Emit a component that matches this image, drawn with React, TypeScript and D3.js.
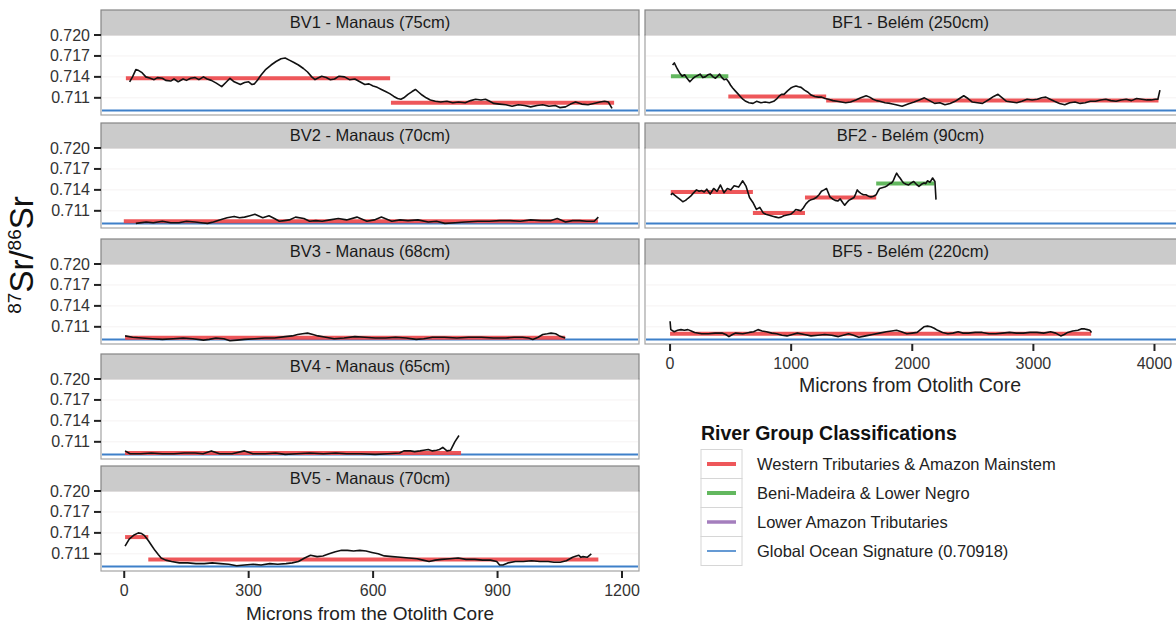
import React from 'react';
import * as d3 from 'd3';

const FONT = '"Liberation Sans", Arial, Helvetica, sans-serif';

// Shared scale settings
const OCEAN_SR = 0.70918;
const Y_DOMAIN = [0.70854, 0.72];
const Y_TICKS = [0.711, 0.714, 0.717, 0.72];
const LEFT_X_TICKS = [0, 300, 600, 900, 1200];
const RIGHT_X_TICKS = [0, 1000, 2000, 3000, 4000];

// River group classes used by the segment overlays and legend
const GROUP_KEYS = ['western', 'beni', 'lower', 'ocean'];
const GROUP_LABELS = [
  'Western Tributaries & Amazon Mainstem',
  'Beni-Madeira & Lower Negro',
  'Lower Amazon Tributaries',
  'Global Ocean Signature (0.70918)',
];
const GROUP_COLORS: Record<string, string> = {
  western: '#ec4548',
  beni: '#52b04e',
  lower: '#9a70b6',
  ocean: '#3e80c9',
};

// ---- Manaus fish (left column) ----
const bv1Microns = [13, 20, 28, 35, 43, 52, 63, 72, 80, 92, 100, 112, 120, 130, 142, 150, 160, 171, 180, 191, 200, 210, 222, 235, 245, 255, 265, 280, 290, 300, 308, 314, 322, 329, 340, 354, 366, 378, 388, 398, 408, 420, 432, 442, 452, 460, 466, 476, 487, 497, 507, 518, 531, 543, 556, 568, 580, 590, 600, 610, 620, 630, 640, 650, 659, 667, 674, 684, 694, 702, 710, 718, 728, 738, 750, 763, 778, 792, 806, 822, 835, 847, 860, 871, 881, 891, 905, 920, 935, 950, 965, 980, 995, 1009, 1024, 1039, 1050, 1064, 1076, 1088, 1103, 1118, 1132, 1147, 1158, 1167, 1176];
const bv1Sr = [0.71329, 0.714, 0.71505, 0.7149, 0.7146, 0.714, 0.7138, 0.7136, 0.7139, 0.7138, 0.7135, 0.7134, 0.7137, 0.7133, 0.7137, 0.7135, 0.7138, 0.7139, 0.7136, 0.714, 0.7137, 0.7135, 0.7131, 0.7126, 0.7132, 0.7138, 0.7133, 0.7129, 0.7132, 0.7133, 0.7129, 0.713, 0.7136, 0.7142, 0.715, 0.7157, 0.7162, 0.7166, 0.7167, 0.7164, 0.7161, 0.7157, 0.7152, 0.7147, 0.714, 0.7136, 0.7138, 0.7141, 0.7139, 0.7136, 0.7137, 0.7141, 0.714, 0.7136, 0.7137, 0.7133, 0.7129, 0.713, 0.7127, 0.7125, 0.7122, 0.7119, 0.7116, 0.7112, 0.7109, 0.7108, 0.711, 0.7115, 0.7119, 0.7122, 0.7118, 0.7114, 0.711, 0.7107, 0.7105, 0.7104, 0.7105, 0.7103, 0.7104, 0.7103, 0.7106, 0.7108, 0.7107, 0.7108, 0.7105, 0.7102, 0.7101, 0.71, 0.7098, 0.71, 0.7099, 0.7097, 0.7099, 0.71, 0.7098, 0.7099, 0.7096, 0.7097, 0.7101, 0.7104, 0.7101, 0.71, 0.7102, 0.7104, 0.7105, 0.7104, 0.7095];
const bv1Segments: [number, number, number, string][] = [
  [4, 641, 0.7138, 'western'],
  [643, 1181, 0.7103, 'western'],
];

const bv2Microns = [28, 53, 70, 92, 112, 132, 150, 171, 185, 201, 215, 230, 248, 265, 278, 290, 303, 315, 334, 349, 362, 374, 386, 398, 413, 433, 447, 462, 477, 496, 516, 536, 561, 585, 603, 620, 645, 665, 684, 708, 733, 753, 773, 798, 822, 852, 881, 905, 930, 955, 980, 1005, 1029, 1044, 1064, 1081, 1098, 1115, 1133, 1143];
const bv2Sr = [0.7092, 0.7094, 0.7093, 0.7095, 0.7093, 0.7093, 0.7095, 0.7094, 0.7093, 0.7092, 0.7094, 0.7097, 0.71, 0.7102, 0.71, 0.7101, 0.7103, 0.7105, 0.71, 0.7103, 0.7099, 0.7095, 0.7096, 0.7097, 0.7101, 0.7099, 0.7095, 0.7096, 0.7095, 0.7097, 0.7099, 0.7097, 0.7101, 0.7095, 0.7097, 0.7101, 0.7095, 0.7097, 0.7096, 0.7097, 0.7094, 0.7095, 0.7092, 0.7093, 0.7094, 0.7095, 0.7095, 0.7096, 0.7096, 0.7095, 0.7097, 0.7096, 0.7096, 0.7099, 0.7094, 0.7096, 0.7096, 0.7095, 0.7095, 0.7101];
const bv2Segments: [number, number, number, string][] = [[-1, 1142, 0.7095, 'western']];

const bv3Microns = [2, 20, 43, 68, 92, 118, 142, 165, 191, 205, 221, 240, 255, 272, 290, 315, 339, 362, 388, 405, 418, 430, 442, 455, 467, 486, 506, 530, 556, 580, 605, 630, 654, 680, 704, 722, 743, 772, 802, 830, 861, 890, 920, 940, 960, 975, 985, 998, 1009, 1020, 1029, 1040, 1049, 1063];
const bv3Sr = [0.7097, 0.7095, 0.7094, 0.7093, 0.7092, 0.7093, 0.7094, 0.7093, 0.7091, 0.7092, 0.7094, 0.7093, 0.709, 0.7091, 0.7092, 0.7093, 0.7094, 0.7094, 0.7096, 0.7097, 0.7099, 0.71, 0.7101, 0.7099, 0.7097, 0.7095, 0.7093, 0.7094, 0.7096, 0.7095, 0.7094, 0.7094, 0.7095, 0.7094, 0.7092, 0.7093, 0.7095, 0.7095, 0.7094, 0.7095, 0.7095, 0.7094, 0.7094, 0.7095, 0.7095, 0.7094, 0.7092, 0.7095, 0.7099, 0.71, 0.7101, 0.71, 0.7097, 0.7094];
const bv3Segments: [number, number, number, string][] = [[2, 1063, 0.70945, 'western']];

const bv4Microns = [2, 14, 40, 65, 92, 120, 145, 171, 190, 210, 230, 260, 290, 310, 340, 365, 388, 415, 447, 480, 510, 536, 570, 605, 635, 664, 674, 690, 700, 713, 722, 733, 743, 753, 760, 768, 778, 787, 797, 807];
const bv4Sr = [0.7097, 0.7093, 0.7093, 0.7094, 0.7093, 0.7093, 0.7094, 0.7094, 0.7093, 0.7097, 0.7093, 0.7093, 0.7097, 0.7093, 0.7093, 0.7094, 0.7092, 0.7093, 0.7094, 0.7093, 0.7094, 0.7093, 0.7093, 0.7092, 0.7093, 0.7094, 0.7097, 0.7097, 0.7096, 0.7097, 0.7098, 0.7099, 0.7097, 0.7098, 0.7099, 0.7102, 0.7097, 0.7098, 0.711, 0.7119];
const bv4Segments: [number, number, number, string][] = [[2, 812, 0.7094, 'western']];

const bv5Microns = [2, 12, 24, 34, 42, 49, 58, 66, 74, 82, 89, 100, 114, 133, 153, 173, 193, 212, 232, 252, 271, 290, 311, 330, 351, 370, 390, 405, 420, 435, 449, 465, 479, 494, 509, 524, 538, 553, 568, 583, 597, 612, 627, 646, 666, 686, 706, 720, 735, 750, 765, 785, 805, 824, 845, 864, 883, 898, 905, 913, 925, 943, 962, 982, 1002, 1022, 1036, 1051, 1066, 1081, 1090, 1096, 1101, 1106, 1116, 1126];
const bv5Sr = [0.7121, 0.7131, 0.7137, 0.714, 0.7139, 0.7136, 0.7129, 0.7122, 0.7115, 0.7109, 0.7104, 0.7101, 0.7099, 0.7097, 0.7097, 0.7096, 0.7096, 0.7097, 0.7096, 0.7095, 0.7093, 0.7094, 0.7095, 0.7094, 0.7096, 0.7095, 0.7096, 0.7097, 0.7099, 0.7104, 0.7108, 0.7106, 0.7107, 0.711, 0.7113, 0.7115, 0.7115, 0.7114, 0.7115, 0.7114, 0.7112, 0.711, 0.7107, 0.7106, 0.7105, 0.7104, 0.7103, 0.7101, 0.7099, 0.7101, 0.7102, 0.7103, 0.7104, 0.7102, 0.7102, 0.7101, 0.7101, 0.7099, 0.7094, 0.7094, 0.7097, 0.7099, 0.7099, 0.71, 0.7099, 0.7099, 0.7098, 0.7098, 0.71, 0.7105, 0.7107, 0.7108, 0.7105, 0.7106, 0.7105, 0.711];
const bv5Segments: [number, number, number, string][] = [
  [2, 58, 0.7134, 'western'],
  [58, 1143, 0.7102, 'western'],
];

// ---- Belém fish (right column) ----
const bf1Microns = [21, 35, 58, 78, 100, 120, 140, 163, 185, 205, 228, 248, 270, 290, 312, 333, 355, 375, 392, 409, 428, 446, 465, 483, 500, 517, 538, 559, 580, 601, 625, 652, 685, 714, 750, 785, 820, 856, 878, 898, 920, 941, 970, 997, 1020, 1040, 1060, 1082, 1110, 1139, 1165, 1195, 1225, 1252, 1280, 1308, 1345, 1379, 1415, 1450, 1490, 1534, 1575, 1619, 1648, 1676, 1705, 1732, 1775, 1817, 1865, 1916, 1965, 2015, 2058, 2100, 2142, 2185, 2228, 2270, 2312, 2354, 2390, 2425, 2460, 2496, 2538, 2580, 2608, 2637, 2672, 2708, 2743, 2778, 2820, 2863, 2905, 2948, 2990, 3033, 3068, 3103, 3138, 3174, 3216, 3259, 3300, 3344, 3386, 3428, 3470, 3513, 3555, 3598, 3640, 3683, 3725, 3767, 3810, 3852, 3895, 3937, 3972, 4008, 4028, 4045];
const bf1Sr = [0.7157, 0.716, 0.7152, 0.7146, 0.7141, 0.7143, 0.7138, 0.7133, 0.7137, 0.714, 0.7142, 0.7144, 0.7139, 0.714, 0.7143, 0.7144, 0.714, 0.7138, 0.7141, 0.7144, 0.7139, 0.7136, 0.7137, 0.7133, 0.7128, 0.7124, 0.712, 0.7116, 0.7112, 0.7108, 0.7105, 0.7103, 0.7102, 0.7105, 0.7103, 0.7104, 0.7103, 0.7105, 0.7108, 0.7112, 0.7115, 0.7115, 0.712, 0.7124, 0.7126, 0.7127, 0.7126, 0.7125, 0.7121, 0.7118, 0.7114, 0.7112, 0.7111, 0.7111, 0.7109, 0.7108, 0.7106, 0.7105, 0.7104, 0.7103, 0.7104, 0.7107, 0.711, 0.7113, 0.7111, 0.7108, 0.7106, 0.7105, 0.7103, 0.7102, 0.71, 0.7098, 0.7101, 0.7104, 0.7107, 0.711, 0.7106, 0.7102, 0.7103, 0.71, 0.7102, 0.7105, 0.7109, 0.7113, 0.7109, 0.7104, 0.7103, 0.7102, 0.7105, 0.7108, 0.7112, 0.7115, 0.711, 0.7105, 0.7104, 0.7103, 0.7105, 0.7108, 0.7107, 0.7108, 0.711, 0.7111, 0.7108, 0.7105, 0.7102, 0.71, 0.7103, 0.7104, 0.7102, 0.7103, 0.7105, 0.7105, 0.7107, 0.7108, 0.7106, 0.7105, 0.7107, 0.7108, 0.7106, 0.7109, 0.7108, 0.7107, 0.7107, 0.7108, 0.7108, 0.7121];
const bf1Segments: [number, number, number, string][] = [
  [7, 481, 0.7141, 'beni'],
  [481, 1289, 0.7112, 'western'],
  [1289, 4033, 0.7106, 'western'],
];

const bf2Microns = [6, 20, 40, 63, 85, 105, 128, 148, 170, 190, 218, 240, 261, 282, 303, 331, 360, 388, 416, 445, 473, 501, 529, 566, 600, 628, 656, 684, 713, 741, 769, 790, 812, 833, 854, 875, 896, 918, 939, 967, 995, 1017, 1038, 1060, 1080, 1100, 1122, 1145, 1165, 1185, 1207, 1230, 1250, 1272, 1292, 1320, 1342, 1363, 1385, 1405, 1425, 1442, 1460, 1476, 1497, 1518, 1532, 1546, 1560, 1575, 1596, 1617, 1638, 1659, 1680, 1702, 1716, 1730, 1751, 1772, 1793, 1814, 1829, 1843, 1857, 1871, 1885, 1899, 1914, 1928, 1949, 1970, 1991, 2012, 2034, 2055, 2076, 2097, 2111, 2125, 2147, 2168, 2187, 2196];
const bf2Sr = [0.7133, 0.7135, 0.7132, 0.7129, 0.7126, 0.7123, 0.7125, 0.7128, 0.7131, 0.7135, 0.714, 0.7138, 0.7139, 0.7137, 0.7141, 0.7134, 0.7142, 0.7138, 0.7147, 0.7136, 0.7142, 0.714, 0.7146, 0.7144, 0.7153, 0.7145, 0.7129, 0.7122, 0.7112, 0.7115, 0.7107, 0.7105, 0.7104, 0.7103, 0.7102, 0.7101, 0.71, 0.7101, 0.7103, 0.7104, 0.7105, 0.7108, 0.7112, 0.7111, 0.711, 0.7114, 0.712, 0.7124, 0.7126, 0.7127, 0.7129, 0.7133, 0.7138, 0.714, 0.7142, 0.713, 0.7127, 0.7125, 0.7124, 0.7127, 0.7122, 0.7118, 0.7122, 0.7125, 0.7127, 0.7129, 0.7134, 0.714, 0.7137, 0.7135, 0.7133, 0.7133, 0.7131, 0.713, 0.7131, 0.7133, 0.7138, 0.7142, 0.7143, 0.7144, 0.7146, 0.7149, 0.715, 0.7153, 0.7159, 0.7164, 0.716, 0.7157, 0.7153, 0.715, 0.7148, 0.7147, 0.715, 0.7152, 0.7148, 0.7145, 0.7148, 0.715, 0.7149, 0.7153, 0.7151, 0.7157, 0.7152, 0.7126];
const bf2Segments: [number, number, number, string][] = [
  [6, 684, 0.7137, 'western'],
  [684, 1114, 0.7107, 'western'],
  [1114, 1702, 0.7129, 'western'],
  [1702, 2182, 0.7149, 'beni'],
];

const bf5Microns = [0, 6, 34, 62, 90, 118, 147, 175, 203, 260, 316, 372, 429, 460, 486, 515, 542, 600, 655, 690, 726, 760, 796, 840, 881, 925, 966, 1010, 1051, 1108, 1164, 1220, 1277, 1335, 1390, 1430, 1474, 1515, 1559, 1615, 1672, 1730, 1785, 1830, 1870, 1910, 1955, 2000, 2040, 2068, 2096, 2125, 2153, 2181, 2209, 2250, 2294, 2335, 2379, 2420, 2464, 2520, 2577, 2633, 2690, 2746, 2803, 2860, 2916, 2972, 3029, 3085, 3142, 3185, 3226, 3255, 3283, 3325, 3368, 3395, 3424, 3446, 3466, 3480];
const bf5Sr = [0.7118, 0.7106, 0.7103, 0.7105, 0.7106, 0.7105, 0.7106, 0.7104, 0.7102, 0.71, 0.71, 0.7101, 0.7101, 0.7099, 0.7096, 0.7099, 0.7101, 0.71, 0.7102, 0.7103, 0.7106, 0.7104, 0.7103, 0.7101, 0.71, 0.7098, 0.7097, 0.7099, 0.7101, 0.7099, 0.7097, 0.7098, 0.7099, 0.7098, 0.7096, 0.7098, 0.71, 0.7098, 0.7095, 0.7097, 0.7099, 0.7101, 0.7103, 0.7104, 0.7105, 0.7103, 0.71, 0.7101, 0.7102, 0.7106, 0.711, 0.7111, 0.711, 0.7108, 0.7105, 0.7102, 0.71, 0.7101, 0.7103, 0.7101, 0.7101, 0.7102, 0.7102, 0.71, 0.71, 0.7101, 0.7102, 0.7101, 0.7101, 0.7102, 0.7102, 0.7101, 0.7103, 0.7101, 0.7097, 0.7099, 0.7102, 0.7104, 0.7105, 0.7107, 0.7107, 0.7106, 0.7105, 0.7102];
const bf5Segments: [number, number, number, string][] = [[0, 3477, 0.7100, 'western']];

type Panel = {
  title: string;
  col: number;
  top: number;
  microns: number[];
  sr: number[];
  segments: [number, number, number, string][];
  xAxis: boolean;
};

// Plot-area tops for each facet row (strip sits directly above)
const LEFT_TOPS = [35, 148, 264, 379, 491];
const RIGHT_TOPS = [35, 148, 264];
const PLOT_H = 80;
const STRIP_H = 25;

const panels: Panel[] = [
  { title: 'BV1 - Manaus (75cm)', col: 0, top: LEFT_TOPS[0], microns: bv1Microns, sr: bv1Sr, segments: bv1Segments, xAxis: false },
  { title: 'BV2 - Manaus (70cm)', col: 0, top: LEFT_TOPS[1], microns: bv2Microns, sr: bv2Sr, segments: bv2Segments, xAxis: false },
  { title: 'BV3 - Manaus (68cm)', col: 0, top: LEFT_TOPS[2], microns: bv3Microns, sr: bv3Sr, segments: bv3Segments, xAxis: false },
  { title: 'BV4 - Manaus (65cm)', col: 0, top: LEFT_TOPS[3], microns: bv4Microns, sr: bv4Sr, segments: bv4Segments, xAxis: false },
  { title: 'BV5 - Manaus (70cm)', col: 0, top: LEFT_TOPS[4], microns: bv5Microns, sr: bv5Sr, segments: bv5Segments, xAxis: true },
  { title: 'BF1 - Belém (250cm)', col: 1, top: RIGHT_TOPS[0], microns: bf1Microns, sr: bf1Sr, segments: bf1Segments, xAxis: false },
  { title: 'BF2 - Belém (90cm)', col: 1, top: RIGHT_TOPS[1], microns: bf2Microns, sr: bf2Sr, segments: bf2Segments, xAxis: false },
  { title: 'BF5 - Belém (220cm)', col: 1, top: RIGHT_TOPS[2], microns: bf5Microns, sr: bf5Sr, segments: bf5Segments, xAxis: true },
];

const xLeft = d3.scaleLinear().domain([-56, 1241]).range([101, 639]);
const xRight = d3.scaleLinear().domain([-207, 4252]).range([645, 1185]);

function FacetPanel({ p }: { p: Panel }) {
  const x = p.col === 0 ? xLeft : xRight;
  const [x0, x1] = x.range();
  const y = d3.scaleLinear().domain(Y_DOMAIN).range([p.top + PLOT_H, p.top]);
  const pts = p.microns.map((m, i) => [m, p.sr[i]] as [number, number]);
  const line = d3
    .line<[number, number]>()
    .x((d) => x(d[0]))
    .y((d) => y(d[1]));
  const xTicks = p.col === 0 ? LEFT_X_TICKS : RIGHT_X_TICKS;
  return (
    <g>
      {/* facet strip */}
      <rect x={x0} y={p.top - STRIP_H} width={x1 - x0} height={STRIP_H} fill="#cbcbcb" stroke="#858585" strokeWidth={1.2} />
      <text x={(x0 + Math.min(x1, 1176)) / 2} y={p.top - STRIP_H / 2 + 5.5} textAnchor="middle" fontSize={16.5} fill="#1a1a1a">
        {p.title}
      </text>
      {/* plot area */}
      <rect x={x0} y={p.top} width={x1 - x0} height={PLOT_H} fill="#ffffff" stroke="#a3a3a3" strokeWidth={1.2} />
      {Y_TICKS.map((t) => (
        <line key={t} x1={x0 + 1} x2={x1 - 1} y1={y(t)} y2={y(t)} stroke="#f5f2f2" strokeWidth={1} />
      ))}
      {/* ocean reference */}
      <line x1={x0 + 1} x2={x1 - 1} y1={y(OCEAN_SR)} y2={y(OCEAN_SR)} stroke={GROUP_COLORS.ocean} strokeWidth={2} />
      {/* river-group segments */}
      {p.segments.map((s, i) => (
        <line key={i} x1={x(s[0])} x2={x(s[1])} y1={y(s[2])} y2={y(s[2])} stroke={GROUP_COLORS[s[3]]} strokeWidth={4} strokeOpacity={0.9} />
      ))}
      {/* Sr ratio profile */}
      <path d={line(pts) ?? ''} fill="none" stroke="#111111" strokeWidth={1.6} strokeLinejoin="round" />
      {/* y axis (left column only) */}
      {p.col === 0 &&
        Y_TICKS.map((t) => (
          <g key={t}>
            <line x1={x0 - 7} x2={x0} y1={y(t)} y2={y(t)} stroke="#222" strokeWidth={2} />
            <text x={x0 - 11} y={y(t) + 5.5} textAnchor="end" fontSize={16} fill="#333">
              {t.toFixed(3)}
            </text>
          </g>
        ))}
      {/* x axis under the bottom facet */}
      {p.xAxis &&
        xTicks.map((t) => (
          <g key={t}>
            <line x1={x(t)} x2={x(t)} y1={p.top + PLOT_H} y2={p.top + PLOT_H + 7} stroke="#222" strokeWidth={2} />
            <text x={x(t)} y={p.top + PLOT_H + 25} textAnchor="middle" fontSize={16} fill="#333">
              {t}
            </text>
          </g>
        ))}
    </g>
  );
}

function Legend() {
  const lx = 701;
  const rows = [464, 493, 522, 551];
  const widths = [4, 4, 3.5, 1.6];
  return (
    <g>
      <text x={lx} y={440} fontSize={19.5} fontWeight="bold" fill="#111">
        River Group Classifications
      </text>
      {GROUP_KEYS.map((k, i) => (
        <g key={k}>
          <rect x={lx} y={rows[i] - 14.5} width={41} height={29} fill="#ffffff" stroke="#d6d6d6" strokeWidth={1} />
          <line x1={lx + 6} x2={lx + 35} y1={rows[i]} y2={rows[i]} stroke={GROUP_COLORS[k]} strokeWidth={widths[i]} strokeOpacity={k === 'ocean' ? 1 : 0.9} />
          <text x={757} y={rows[i] + 5.5} fontSize={16.5} fill="#222">
            {GROUP_LABELS[i]}
          </text>
        </g>
      ))}
    </g>
  );
}

export default function App() {
  return (
    <svg
      width={1176}
      height={628}
      viewBox="0 0 1176 628"
      style={{ position: 'absolute', left: 0, top: 0, display: 'block', background: '#ffffff' }}
      fontFamily={FONT}
    >
      <rect x={0} y={0} width={1176} height={628} fill="#ffffff" />
      {panels.map((p) => (
        <FacetPanel key={p.title} p={p} />
      ))}
      {/* axis titles */}
      <text x={(xLeft(-56) + xLeft(1241)) / 2} y={620} textAnchor="middle" fontSize={19} fill="#222">
        Microns from the Otolith Core
      </text>
      <text x={910} y={392} textAnchor="middle" fontSize={19.5} fill="#222">
        Microns from Otolith Core
      </text>
      <text transform="translate(33,255) rotate(-90)" textAnchor="middle" fill="#111" fontSize={33}>
        <tspan fontSize={19} dy={-12}>87</tspan>
        <tspan fontSize={33} dy={12}>Sr/</tspan>
        <tspan fontSize={19} dy={-12}>86</tspan>
        <tspan fontSize={33} dy={12}>Sr</tspan>
      </text>
      <Legend />
    </svg>
  );
}
